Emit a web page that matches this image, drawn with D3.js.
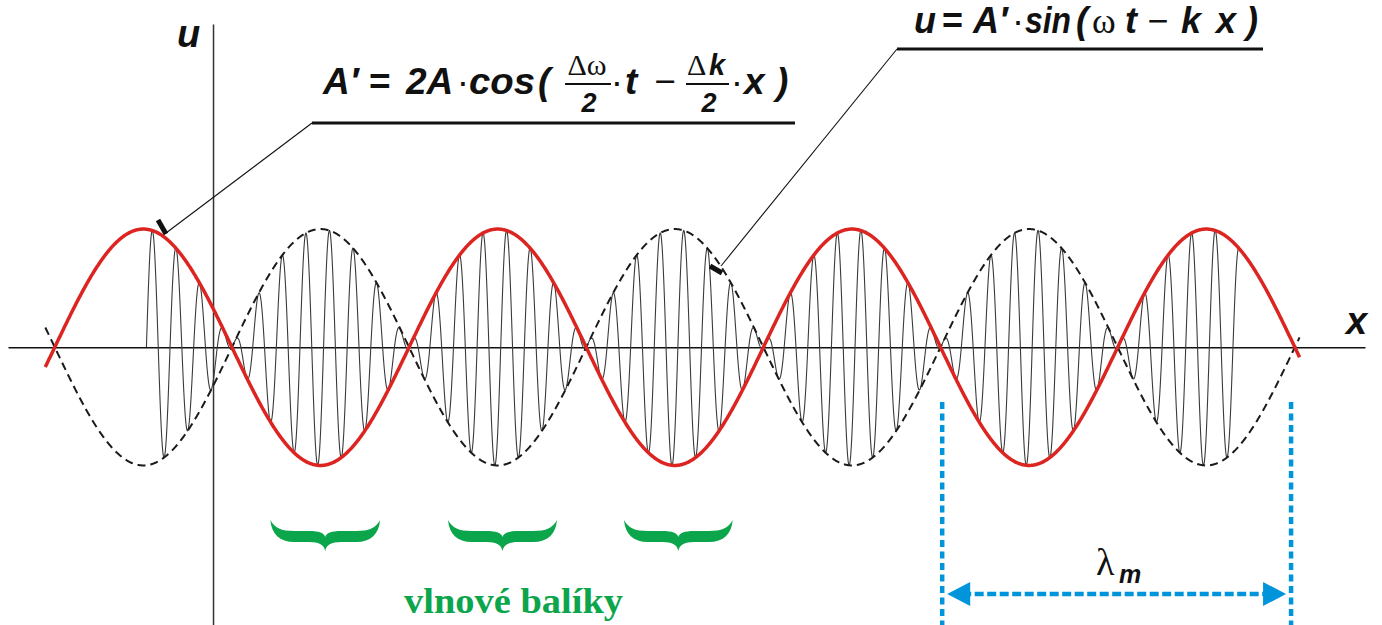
<!DOCTYPE html>
<html>
<head>
<meta charset="utf-8">
<script src="https://cdn.jsdelivr.net/npm/d3@7"></script>
<style>
  body { margin: 0; background: #fff; }
  svg { display: block; }
</style>
</head>
<body>
<div id="svg-area"></div>
<script>
// Chart values, x in units of the carrier wavelength, u in units of 2A
var xExtent = [-8.68, 48.77];      // horizontal axis ends
var uExtent = [-2.35, 2.735];      // vertical axis ends
var wavelengths = [15, 1];         // [beat wavelength lambda_m, carrier wavelength]
var envelopePeak = [-2.95];        // x of first envelope maximum
var carrierZero = [-2.82];         // x where the carrier starts (phase 0)
var envelopeSpan = [-7.1, 46.0];   // drawn part of the envelopes
var carrierSpan = [-2.82, 43.4];   // drawn part of the carrier
var packetSpans = [[2.43, 7.07], [9.95, 14.56], [17.4, 22.0]];
var lambdaSpan = [30.87, 45.64];

var svgWidth = 1382;
var svgHeight = 625;

var svg = d3.select("#svg-area")
  .append("svg")
  .attr("width", svgWidth)
  .attr("height", svgHeight);

var xScale = d3.scaleLinear().domain(xExtent).range([8, 1365]);
var yScale = d3.scaleLinear().domain(uExtent).range([625, 24]);

function envelope(x) {
  return Math.cos(2 * Math.PI * (x - envelopePeak[0]) / wavelengths[0]);
}
function carrier(x) {
  return Math.sin(2 * Math.PI * (x - carrierZero[0]) / wavelengths[1]);
}

// sample points along x for the curves
var envX = d3.range(envelopeSpan[0], envelopeSpan[1], 0.02).concat([envelopeSpan[1]]);
var carX = d3.range(carrierSpan[0], carrierSpan[1], 0.01).concat([carrierSpan[1]]);

var line = d3.line()
  .x(function(d) { return xScale(d[0]); })
  .y(function(d) { return yScale(d[1]); });

// axes without ticks
svg.append("g")
  .attr("transform", `translate(0, ${yScale(0)})`)
  .call(d3.axisBottom(xScale).tickValues([]).tickSizeOuter(0))
  .select(".domain").attr("stroke", "#111").attr("stroke-width", 1.6);

svg.append("g")
  .attr("transform", `translate(${xScale(0)}, 0)`)
  .call(d3.axisLeft(yScale).tickValues([]).tickSizeOuter(0))
  .select(".domain").attr("stroke", "#333").attr("stroke-width", 1.5);

// fast oscillation u = A' sin(wt - kx)
svg.append("path")
  .attr("d", line(carX.map(function(x) { return [x, envelope(x) * carrier(x)]; })))
  .attr("fill", "none")
  .attr("stroke", "#3a3a3a")
  .attr("stroke-width", 1.1);

// -A' dashed
svg.append("path")
  .attr("d", line(envX.map(function(x) { return [x, -envelope(x)]; })))
  .attr("fill", "none")
  .attr("stroke", "#1a1a1a")
  .attr("stroke-width", 2)
  .attr("stroke-dasharray", "8,5");

// A' red
svg.append("path")
  .attr("d", line(envX.map(function(x) { return [x, envelope(x)]; })))
  .attr("fill", "none")
  .attr("stroke", "#dc2520")
  .attr("stroke-width", 3.5);

var sans = "'Liberation Sans', Arial, sans-serif";
var serif = "'Liberation Serif', 'Times New Roman', serif";

function label(txt, x, y, size, opts) {
  opts = opts || {};
  var t = svg.append("text")
    .attr("x", x).attr("y", y)
    .attr("font-family", opts.family || sans)
    .attr("font-size", size)
    .attr("font-weight", opts.weight || "bold")
    .attr("font-style", opts.style || "italic")
    .attr("text-anchor", opts.anchor || "start")
    .attr("fill", opts.fill || "#111")
    .text(txt);
  if (opts.len) t.attr("textLength", opts.len).attr("lengthAdjust", "spacingAndGlyphs");
  return t;
}
var plain = {weight: "normal", style: "normal", anchor: "middle"};

// axis labels
label("u", 177, 47, 38);
label("x", 1346, 334, 38);

// formula for A'
var f1 = 94, s1 = 37;
label("A\u2032", 323, f1, s1);
label("=", 369, f1, s1, {style: "normal"});
label("2A", 406, f1, s1);
label("\u00b7", 463, f1, s1, plain);
label("cos", 469, f1, s1, {len: 66});
label("(", 538, f1, s1);
label("\u0394\u03c9", 587, 75, 30, {family: serif, weight: "normal", style: "normal", anchor: "middle"});
label("2", 589, 112, 27, {anchor: "middle"});
label("\u00b7", 617, f1, s1, plain);
label("t", 625, f1, s1);
label("\u2212", 665, f1, s1, plain);
label("\u0394", 687, 75, 30, {family: serif, weight: "normal", style: "normal"});
label("k", 709, 75, 29);
label("2", 709, 112, 27, {anchor: "middle"});
label("\u00b7", 737, f1, s1, plain);
label("x", 744, f1, s1);
label(")", 776, f1, s1);

svg.append("line").attr("x1", 565).attr("x2", 611).attr("y1", 84).attr("y2", 84)
  .attr("stroke", "#111").attr("stroke-width", 2);
svg.append("line").attr("x1", 686).attr("x2", 729).attr("y1", 84).attr("y2", 84)
  .attr("stroke", "#111").attr("stroke-width", 2);

// formula for u
var f2 = 33, s2 = 36;
label("u", 914, f2, s2);
label("=", 942, f2, s2, {style: "normal"});
label("A\u2032", 973, f2, s2);
label("\u00b7", 1018, f2, s2, plain);
label("sin", 1025, f2, s2, {len: 46});
label("(", 1076, f2, s2);
label("\u03c9", 1092, f2, 36, {family: serif, weight: "normal", style: "normal"});
label("t", 1125, f2, s2);
label("\u2212", 1158, f2, s2, plain);
label("k", 1181, f2, s2);
label("x", 1216, f2, s2);
label(")", 1246, f2, s2);

// underlines and leaders
var leaders = svg.append("g").attr("stroke", "#111").attr("fill", "none");
leaders.append("line").attr("x1", 312).attr("x2", 795).attr("y1", 123).attr("y2", 123).attr("stroke-width", 3);
leaders.append("line").attr("x1", 312).attr("y1", 123).attr("x2", 166).attr("y2", 233).attr("stroke-width", 1.1);
leaders.append("line").attr("x1", 158).attr("y1", 220).attr("x2", 166).attr("y2", 234).attr("stroke-width", 5);
leaders.append("line").attr("x1", 897).attr("x2", 1263).attr("y1", 49).attr("y2", 49).attr("stroke-width", 3);
leaders.append("line").attr("x1", 897).attr("y1", 49).attr("x2", 721).attr("y2", 266).attr("stroke-width", 1.1);
leaders.append("line").attr("x1", 710).attr("y1", 266).attr("x2", 722).attr("y2", 273).attr("stroke-width", 5);

// green braces for wave packets
var green = "#0ba54b";
function bracePath(x0, x1, y0) {
  var xc = (x0 + x1) / 2, p = d3.path();
  p.moveTo(x0, y0);
  p.bezierCurveTo(x0 + 1, y0 + 14, x0 + 9, y0 + 22, x0 + 24, y0 + 22);
  p.lineTo(xc - 16, y0 + 22);
  p.bezierCurveTo(xc - 6, y0 + 22, xc - 1, y0 + 25, xc, y0 + 31);
  p.bezierCurveTo(xc + 1, y0 + 25, xc + 6, y0 + 22, xc + 16, y0 + 22);
  p.lineTo(x1 - 24, y0 + 22);
  p.bezierCurveTo(x1 - 9, y0 + 22, x1 - 1, y0 + 14, x1, y0);
  p.bezierCurveTo(x1 - 4, y0 + 8, x1 - 11, y0 + 11, x1 - 24, y0 + 11);
  p.lineTo(xc + 16, y0 + 11);
  p.bezierCurveTo(xc + 6, y0 + 11, xc + 1, y0 + 13, xc, y0 + 17);
  p.bezierCurveTo(xc - 1, y0 + 13, xc - 6, y0 + 11, xc - 16, y0 + 11);
  p.lineTo(x0 + 24, y0 + 11);
  p.bezierCurveTo(x0 + 11, y0 + 11, x0 + 4, y0 + 8, x0, y0);
  p.closePath();
  return p.toString();
}

svg.append("g").selectAll("path")
  .data(packetSpans)
  .join("path")
  .attr("d", function(d) { return bracePath(xScale(d[0]), xScale(d[1]), 520); })
  .attr("fill", green);

svg.append("text")
  .attr("x", 404).attr("y", 613)
  .attr("font-family", serif)
  .attr("font-weight", "bold")
  .attr("font-size", 36)
  .attr("fill", green)
  .attr("textLength", 219)
  .attr("lengthAdjust", "spacingAndGlyphs")
  .text("vlnové balíky");

// lambda_m dimension
var blue = "#0095da";
var bx0 = xScale(lambdaSpan[0]), bx1 = xScale(lambdaSpan[1]);
var dim = svg.append("g");
[bx0, bx1].forEach(function(x) {
  dim.append("line")
    .attr("x1", x).attr("x2", x).attr("y1", 402).attr("y2", 625)
    .attr("stroke", blue).attr("stroke-width", 4.5)
    .attr("stroke-dasharray", "7,4.5");
});
var ay = 594;
dim.append("line")
  .attr("x1", bx0 + 20).attr("x2", bx1 - 20).attr("y1", ay).attr("y2", ay)
  .attr("stroke", blue).attr("stroke-width", 4.5)
  .attr("stroke-dasharray", "9,3.5");
dim.append("path")
  .attr("d", `M${bx0 + 5},${ay} L${bx0 + 28},${ay - 12} L${bx0 + 28},${ay + 12} Z`)
  .attr("fill", blue);
dim.append("path")
  .attr("d", `M${bx1 - 5},${ay} L${bx1 - 28},${ay - 12} L${bx1 - 28},${ay + 12} Z`)
  .attr("fill", blue);

label("\u03bb", 1096, 575, 38, {family: serif, weight: "normal", style: "normal"});
label("m", 1119, 583, 25);
</script>
</body>
</html>
